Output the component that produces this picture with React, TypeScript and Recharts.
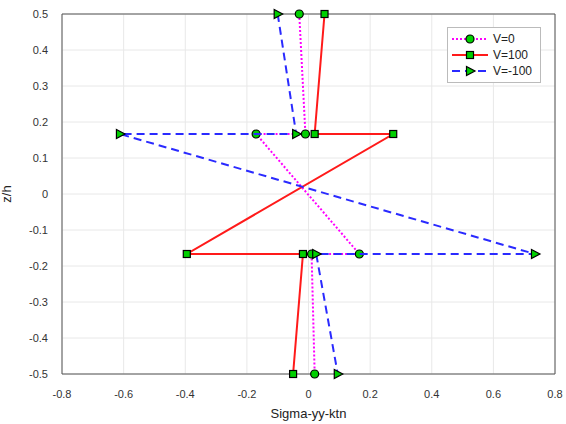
import { CartesianGrid, ReferenceLine, Scatter, ScatterChart, XAxis, YAxis } from "recharts"

const zLevels = [0.5, 1 / 6, 1 / 6, -1 / 6, -1 / 6, -0.5]
const sigmaV0 = [-0.03, -0.01, -0.17, 0.165, 0.01, 0.02]
const sigmaV100 = [0.052, 0.02, 0.275, -0.395, -0.018, -0.05]
const sigmaVm100 = [-0.1, -0.04, -0.612, 0.735, 0.025, 0.095]
const xTicks = [-0.8, -0.6, -0.4, -0.2, 0, 0.2, 0.4, 0.6, 0.8]
const yTicks = [-0.5, -0.4, -0.3, -0.2, -0.1, 0, 0.1, 0.2, 0.3, 0.4, 0.5]

const toPoints = (xs: number[]) => xs.map((x, i) => ({ x, z: zLevels[i] }))

const series = [
  { name: "V=0", data: toPoints(sigmaV0), color: "#ff00ff", dash: "2 2", marker: "circle" },
  { name: "V=100", data: toPoints(sigmaV100), color: "#ff1a1a", dash: undefined, marker: "square" },
  { name: "V=-100", data: toPoints(sigmaVm100), color: "#2a2aff", dash: "8 5", marker: "triangle" },
]

const GREEN = "#00d000"
const FONT = "Liberation Sans, Arial, sans-serif"

function Marker({ kind, cx, cy }: { kind: string; cx: number; cy: number }) {
  if (kind === "circle") {
    return <circle cx={cx} cy={cy} r={4} fill={GREEN} stroke="#000" strokeWidth={1.2} />
  }
  if (kind === "square") {
    return <rect x={cx - 3.5} y={cy - 3.5} width={7} height={7} fill={GREEN} stroke="#000" strokeWidth={1.2} />
  }
  return (
    <polygon
      points={`${cx - 3.5},${cy - 4.5} ${cx + 5},${cy} ${cx - 3.5},${cy + 4.5}`}
      fill={GREEN}
      stroke="#000"
      strokeWidth={1.2}
    />
  )
}

function LegendBox() {
  return (
    <div
      style={{
        position: "absolute",
        left: 447,
        top: 27,
        width: 94,
        boxSizing: "border-box",
        background: "#fff",
        border: "1px solid #bbb",
        padding: "3px 4px 3px 2px",
        fontFamily: FONT,
        fontSize: 12,
        color: "#222",
      }}
    >
      {series.map((s) => (
        <div key={s.name} style={{ display: "flex", alignItems: "center", height: 16 }}>
          <svg width={40} height={14}>
            <line x1={2} y1={7} x2={38} y2={7} stroke={s.color} strokeWidth={2} strokeDasharray={s.dash} />
            <Marker kind={s.marker} cx={20} cy={7} />
          </svg>
          <span style={{ marginLeft: 3 }}>{s.name}</span>
        </div>
      ))}
    </div>
  )
}

const tickStyle = { fontSize: 11, fill: "#333", fontFamily: FONT }
const fmt = (v: number) => (v === 0 ? "0" : String(Number(v.toFixed(1))))

export default function App() {
  return (
    <div style={{ position: "absolute", left: 0, top: 0, width: 566, height: 424, background: "#fff" }}>
      <ScatterChart width={566} height={424} margin={{ top: 14, right: 11, left: 0, bottom: 0 }}>
        <CartesianGrid stroke="#e8e8e8" strokeWidth={1} />
        <XAxis
          type="number"
          dataKey="x"
          domain={[-0.8, 0.8]}
          ticks={xTicks}
          tickFormatter={fmt}
          tick={tickStyle}
          tickLine={false}
          axisLine={{ stroke: "#555" }}
          height={50}
          tickMargin={10}
          label={{ value: "Sigma-yy-ktn", position: "insideBottom", offset: 6, style: { fontSize: 13, fill: "#222", fontFamily: FONT } }}
        />
        <YAxis
          type="number"
          dataKey="z"
          domain={[-0.5, 0.5]}
          ticks={yTicks}
          tickFormatter={fmt}
          tick={tickStyle}
          tickLine={false}
          axisLine={{ stroke: "#555" }}
          width={62}
          tickMargin={8}
          label={{ value: "z/h", angle: -90, position: "insideLeft", offset: 6, style: { fontSize: 13, fill: "#222", fontFamily: FONT, textAnchor: "middle" } }}
        />
        <ReferenceLine x={0.8} stroke="#555" />
        <ReferenceLine y={0.5} stroke="#555" />
        {series.map((s) => (
          <Scatter
            key={s.name}
            name={s.name}
            data={s.data}
            isAnimationActive={false}
            line={{ stroke: s.color, strokeWidth: 2, strokeDasharray: s.dash }}
            lineJointType="linear"
            shape={(p: any) => <Marker kind={s.marker} cx={p.cx} cy={p.cy} />}
          />
        ))}
      </ScatterChart>
      <LegendBox />
    </div>
  )
}
